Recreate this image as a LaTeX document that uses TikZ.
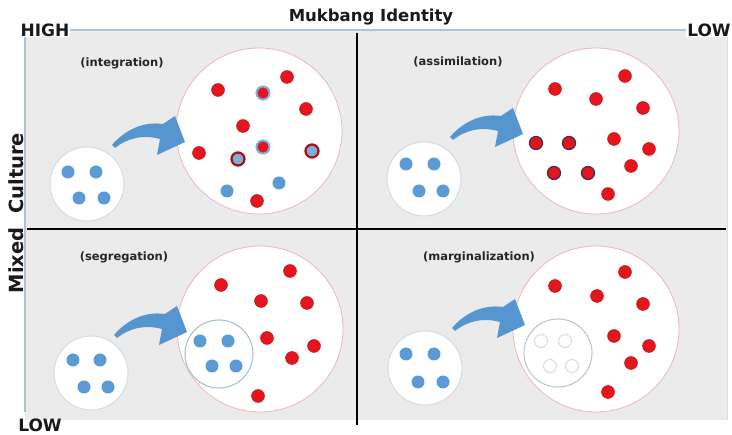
\documentclass[tikz,border=0pt]{standalone}
\usepackage{fontspec}
\newfontfamily\axisfont{DejaVu Sans}
\newfontfamily\labfont{DejaVu Sans}
\definecolor{panelgray}{HTML}{EBEBEB}
\definecolor{borderblue}{HTML}{A9C5D6}
\definecolor{dotred}{HTML}{E3161E}
\definecolor{darkred}{HTML}{A8121A}
\definecolor{dotblue}{HTML}{5B9BD5}
\definecolor{arrowblue}{HTML}{5596D0}
\definecolor{bigedge}{HTML}{F0B6B6}
\definecolor{smalledge}{HTML}{D2DDE4}
\definecolor{segedge}{HTML}{A9C3CF}
\definecolor{navy}{HTML}{4A2F50}
\tikzset{
  bigc/.style={circle,draw=bigedge,line width=0.8pt,fill=white,minimum size=166pt,inner sep=0pt},
  smallc/.style={circle,draw=smalledge,line width=1pt,fill=white,minimum size=74pt,inner sep=0pt},
  innerc/.style={circle,draw=segedge,line width=1.1pt,fill=white,minimum size=68pt,inner sep=0pt},
  rdot/.style={circle,fill=dotred,draw=dotred!80!black,line width=0.4pt,minimum size=13pt,inner sep=0pt},
  bdot/.style={circle,fill=dotblue,minimum size=13pt,inner sep=0pt},
  rbdot/.style={circle,fill=dotred,draw=dotblue!80,line width=2pt,minimum size=13pt,inner sep=0pt},
  brdot/.style={circle,fill=dotblue!80,draw=darkred,line width=2.3pt,minimum size=13pt,inner sep=0pt},
  rndot/.style={circle,fill=dotred,draw=navy,line width=1.3pt,minimum size=13pt,inner sep=0pt},
  hdot/.style={circle,draw=smalledge,line width=1pt,fill=white,minimum size=13pt,inner sep=0pt},
  quadlabel/.style={font=\labfont\bfseries\fontsize{11.5}{13}\selectfont,text=black!85,inner sep=1pt},
  axislabel/.style={font=\axisfont\bfseries\fontsize{17}{19}\selectfont,text=black!90,inner sep=1pt},
  bluearrow/.pic={\fill[arrowblue] (0,-1) .. controls (12,-15) and (30,-25) .. (51,-22) -- (63,-30) -- (73,-4) -- (45,9) -- (48,-7) .. controls (30,-12) and (14,-7) .. (3,2) -- cycle;}
}
\begin{document}
\begin{tikzpicture}[x=1pt,y=-1pt]
\useasboundingbox (0,0) rectangle (732,435);
\fill[white] (0,0) rectangle (732,435);
% panel
\fill[panelgray] (25,30) rectangle (727,420);
\draw[smalledge,line width=1pt] (727,34) -- (727,420);
\draw[borderblue,line width=1.6pt] (25,412) -- (25,30) -- (690,30);
% dividers
\draw[black,line width=1.8pt] (357,33) -- (357,425);
\draw[black,line width=1.8pt] (27,229) -- (726,229);
% axis labels
\node[axislabel,fill=white] (high) at (45,30) {HIGH};
\node[axislabel,fill=white] (lowtr) at (709,30) {LOW};
\node[axislabel] (lowbl) at (40,425) {LOW};
\node[font=\axisfont\bfseries\fontsize{16.5}{18}\selectfont,text=black!90] (mi) at (371,17) {Mukbang Identity};
\node[font=\axisfont\bfseries\fontsize{19.5}{21}\selectfont,text=black!90,rotate=90] (mc) at (16,213) {Mixed\ \ Culture};
% quadrant labels
\node[quadlabel] (l1) at (122,63) {(integration)};
\node[quadlabel] (l2) at (458,62) {(assimilation)};
\node[quadlabel] (l3) at (124,257) {(segregation)};
\node[quadlabel] (l4) at (479,257) {(marginalization)};
% ---------- Q1 integration
\node[bigc] (b1) at (259,131) {};
\node[smallc] (s1) at (87,184) {};
\pic at (112,146) {bluearrow};
\foreach \p [count=\k] in {(68,172),(96,172),(79,198),(104,198)} \node[bdot] (s1d\k) at \p {};
\foreach \p [count=\k] in {(218,90),(287,77),(306,109),(243,126),(199,153),(257,201)} \node[rdot] (b1r\k) at \p {};
\foreach \p [count=\k] in {(263,93),(263,147)} \node[rbdot] (b1m\k) at \p {};
\foreach \p [count=\k] in {(238,159),(312,151)} \node[brdot] (b1n\k) at \p {};
\foreach \p [count=\k] in {(227,191),(279,183)} \node[bdot] (b1b\k) at \p {};
% ---------- Q2 assimilation
\node[bigc] (b2) at (596,131) {};
\node[smallc] (s2) at (424,179) {};
\pic at (450,138) {bluearrow};
\foreach \p [count=\k] in {(406,164),(434,164),(419,191),(443,191)} \node[bdot] (s2d\k) at \p {};
\foreach \p [count=\k] in {(555,89),(625,76),(596,99),(643,108),(614,139),(649,149),(631,166),(608,194)} \node[rdot] (b2r\k) at \p {};
\foreach \p [count=\k] in {(536,143),(569,143),(554,173),(588,173)} \node[rndot] (b2n\k) at \p {};
% ---------- Q3 segregation
\node[bigc] (b3) at (260,329) {};
\node[smallc] (s3) at (91,373) {};
\pic at (114,336) {bluearrow};
\foreach \p [count=\k] in {(73,360),(100,360),(84,387),(108,387)} \node[bdot] (s3d\k) at \p {};
\node[innerc] (i3) at (219,354) {};
\foreach \p [count=\k] in {(200,341),(228,341),(212,366),(236,366)} \node[bdot] (i3d\k) at \p {};
\foreach \p [count=\k] in {(221,285),(290,271),(261,301),(307,303),(267,338),(314,346),(292,358),(258,396)} \node[rdot] (b3r\k) at \p {};
% ---------- Q4 marginalization
\node[bigc] (b4) at (596,329) {};
\node[smallc] (s4) at (425,368) {};
\pic at (452,329) {bluearrow};
\foreach \p [count=\k] in {(406,354),(434,354),(418,382),(443,382)} \node[bdot] (s4d\k) at \p {};
\node[innerc,draw=smalledge!90!black] (i4) at (558,353) {};
\foreach \p [count=\k] in {(541,341),(565,341),(550,366),(572,366)} \node[hdot] (i4d\k) at \p {};
\foreach \p [count=\k] in {(555,286),(625,272),(597,296),(643,304),(614,336),(649,346),(631,363),(608,392)} \node[rdot] (b4r\k) at \p {};
\end{tikzpicture}
\end{document}
